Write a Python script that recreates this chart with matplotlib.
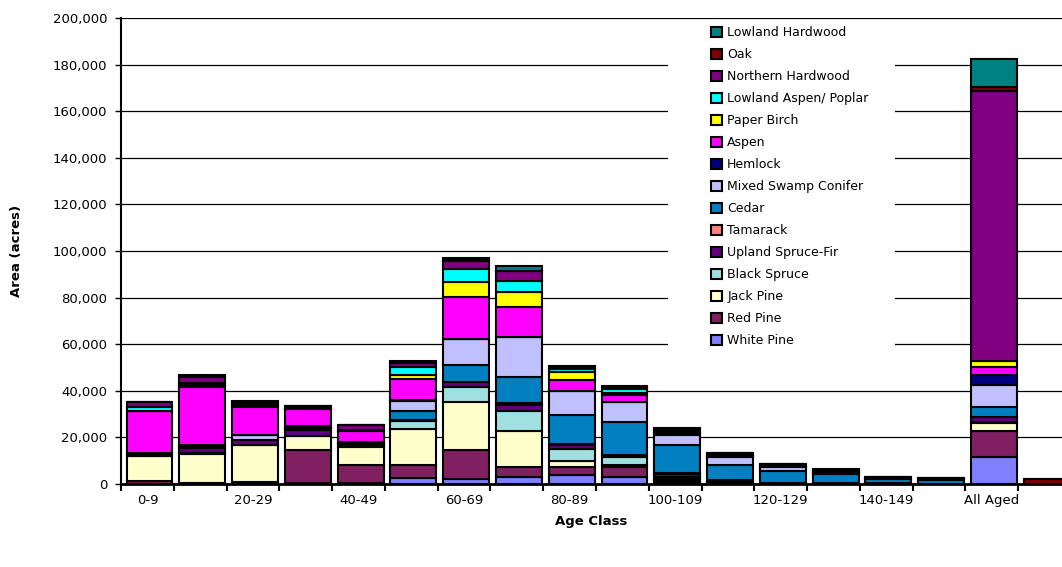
import numpy as np
import matplotlib
matplotlib.use("Agg")
import matplotlib.pyplot as plt
from matplotlib.patches import Rectangle
from matplotlib.ticker import FuncFormatter

plt.rcParams['font.family'] = ['DejaVu Sans']

categories = ['0-9', '10-19', '20-29', '30-39', '40-49', '50-59', '60-69', '70-79',
              '80-89', '90-99', '100-109', '110-119', '120-129', '130-139',
              '140-149', '150-159', 'All Aged', 'Uneven Aged']

# Acres by forest type and age class (stacked bottom to top)
white_pine = [0, 0, 0, 300, 300, 2400, 2200, 2900, 3900, 3200, 300, 0, 0, 0, 0, 0, 11700, 0]
red_pine = [1300, 300, 900, 14500, 8000, 5900, 12200, 4500, 3600, 4200, 1000, 500, 300, 300, 300, 200, 11100, 0]
jack_pine = [10600, 12600, 16000, 5600, 7700, 15200, 20600, 15400, 2500, 800, 800, 0, 0, 0, 0, 0, 3400, 0]
black_spruce = [300, 500, 0, 300, 400, 3500, 6800, 8400, 4900, 3500, 800, 500, 300, 300, 0, 0, 500, 0]
upland_spruce_fir = [500, 2000, 1800, 2400, 700, 300, 1800, 2700, 1800, 600, 1200, 600, 0, 0, 0, 0, 1900, 0]
tamarack = [0, 0, 0, 0, 0, 0, 0, 700, 600, 0, 600, 0, 0, 0, 0, 0, 300, 0]
cedar = [300, 500, 0, 600, 400, 3900, 7500, 11400, 12400, 14100, 12100, 6600, 5100, 3600, 1800, 1600, 4200, 0]
mixed_swamp_conifer = [0, 400, 2400, 500, 300, 4500, 11300, 17200, 10000, 8600, 4400, 3500, 1600, 500, 400, 300, 9300, 0]
hemlock = [200, 400, 0, 600, 300, 200, 0, 0, 0, 0, 600, 400, 300, 500, 0, 0, 4500, 0]
aspen = [18300, 25000, 12100, 7500, 4600, 9100, 17900, 12800, 5000, 3200, 500, 300, 300, 300, 0, 0, 3400, 0]
paper_birch = [0, 700, 500, 300, 200, 1700, 6200, 6200, 3500, 700, 300, 0, 0, 0, 0, 0, 2300, 0]
lowland_aspen_poplar = [1700, 800, 500, 300, 300, 3700, 5700, 5000, 1000, 1900, 300, 200, 0, 0, 0, 0, 300, 0]
northern_hardwood = [1900, 2800, 800, 600, 2000, 1700, 3500, 4400, 800, 800, 800, 500, 500, 500, 400, 300, 115900, 0]
oak = [0, 300, 300, 0, 100, 0, 500, 0, 300, 200, 0, 0, 0, 0, 0, 0, 1700, 2000]
lowland_hardwood = [0, 300, 300, 0, 0, 500, 1000, 1800, 300, 200, 300, 200, 0, 300, 0, 0, 11800, 0]

series = [
    ('White Pine', white_pine, '#8080FF'),
    ('Red Pine', red_pine, '#802060'),
    ('Jack Pine', jack_pine, '#FFFFCC'),
    ('Black Spruce', black_spruce, '#A0E0E0'),
    ('Upland Spruce-Fir', upland_spruce_fir, '#600080'),
    ('Tamarack', tamarack, '#FF8080'),
    ('Cedar', cedar, '#0080C0'),
    ('Mixed Swamp Conifer', mixed_swamp_conifer, '#C0C0FF'),
    ('Hemlock', hemlock, '#000080'),
    ('Aspen', aspen, '#FF00FF'),
    ('Paper Birch', paper_birch, '#FFFF00'),
    ('Lowland Aspen/ Poplar', lowland_aspen_poplar, '#00FFFF'),
    ('Northern Hardwood', northern_hardwood, '#800080'),
    ('Oak', oak, '#800000'),
    ('Lowland Hardwood', lowland_hardwood, '#008080'),
]

W, H = 1062, 567
fig = plt.figure(figsize=(W / 100, H / 100), dpi=100)
ax = fig.add_axes([121 / W, (H - 484) / H, 950 / W, 466 / H])

x = np.arange(len(categories))
bottom = np.zeros(len(categories))
handles = []
for name, vals, col in series:
    v = np.array(vals, dtype=float)
    b = ax.bar(x + 0.04, v, width=0.87, bottom=bottom, color=col, edgecolor='black',
               linewidth=1.5, label=name, zorder=3)
    handles.append(b)
    bottom += v

ax.set_xlim(-0.5, len(categories) - 0.5)
ax.set_ylim(0, 200000)
ax.set_yticks(np.arange(0, 200001, 20000))
ax.yaxis.set_major_formatter(FuncFormatter(lambda v, p: f"{int(v):,}"))
ax.set_axisbelow(True)
ax.yaxis.grid(True, color='black', linewidth=0.9)
ax.tick_params(axis='y', direction='out', length=4, width=1, labelsize=9.5, pad=6)

# tick marks between categories, labels on every other category
ax.set_xticks(np.arange(-0.5, len(categories), 1))
ax.set_xticklabels([])
ax.tick_params(axis='x', which='major', direction='out', length=5, width=1.5)
ax.set_xticks(x[::2], minor=True)
ax.set_xticklabels(categories[::2], minor=True)
ax.tick_params(axis='x', which='minor', length=0, labelsize=9.5, pad=7)

for s in ['top', 'right']:
    ax.spines[s].set_visible(False)
ax.spines['left'].set_linewidth(1.5)
ax.spines['bottom'].set_linewidth(2)

# white panel behind the legend
ax.add_patch(Rectangle(((668 - 121) / 950, (484 - 360) / 466), (895 - 668) / 950, (360 - 22) / 466,
                       transform=ax.transAxes, facecolor='white', edgecolor='none', zorder=2))

leg = ax.legend(handles[::-1], [s[0] for s in series][::-1], loc='upper left',
                bbox_to_anchor=((711 - 121) / 950, (484 - 26) / 466), frameon=False,
                fontsize=9, handlelength=0.9, handleheight=0.9, handletextpad=0.4,
                labelspacing=0.72, borderpad=0, borderaxespad=0)
leg.set_zorder(5)

fig.text(17 / W, (H - 251) / H, 'Area (acres)', rotation=90, ha='center', va='center',
         fontsize=9.5, fontweight='bold')
fig.text(591 / W, (H - 522) / H, 'Age Class', ha='center', va='center',
         fontsize=9.5, fontweight='bold')

fig.savefig('out.png', dpi=100)
